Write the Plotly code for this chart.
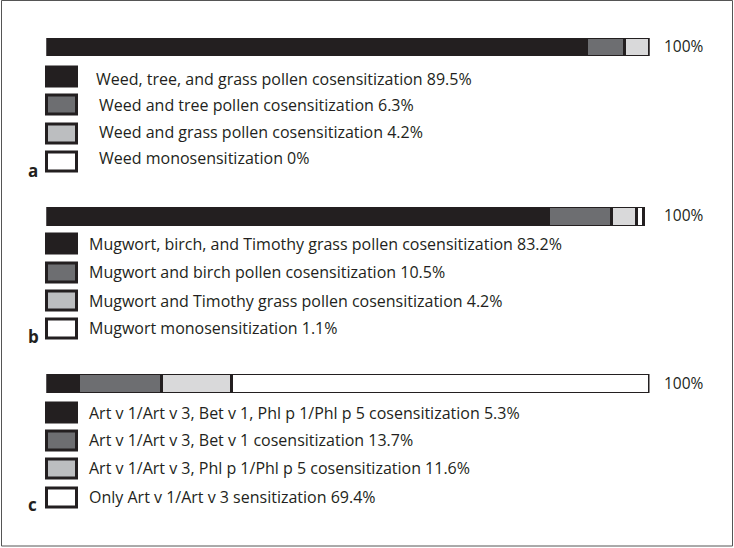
import plotly.graph_objects as go

W, H = 734, 548

# ---- data ----
panel_letters = ["a", "b", "c"]
labels_a = ["Weed, tree, and grass pollen cosensitization",
            "Weed and tree pollen cosensitization",
            "Weed and grass pollen cosensitization",
            "Weed monosensitization"]
values_a = [89.5, 6.3, 4.2, 0]
labels_b = ["Mugwort, birch, and Timothy grass pollen cosensitization",
            "Mugwort and birch pollen cosensitization",
            "Mugwort and Timothy grass pollen cosensitization",
            "Mugwort monosensitization"]
values_b = [83.2, 10.5, 4.2, 1.1]
labels_c = ["Art v 1/Art v 3, Bet v 1, Phl p 1/Phl p 5 cosensitization",
            "Art v 1/Art v 3, Bet v 1 cosensitization",
            "Art v 1/Art v 3, Phl p 1/Phl p 5 cosensitization",
            "Only Art v 1/Art v 3 sensitization"]
values_c = [5.3, 13.7, 11.6, 69.4]
total_label = "100%"

panels = [(labels_a, values_a), (labels_b, values_b), (labels_c, values_c)]

# ---- style ----
DARK = "#231f20"
bar_colors = [DARK, "#6d6e71", "#d9d9da", "#ffffff"]
swatch_colors = [DARK, "#6d6e71", "#bcbec0", "#ffffff"]
FONT = "Open Sans, Segoe UI, DejaVu Sans, sans-serif"

# pixel layout (top, bottom) of each bar; legend rows
bar_px = [(37, 57), (206, 227), (373, 394)]
swatch_top = [[66, 94, 123, 151], [233, 262, 290, 318], [402, 430, 458, 487]]
text_cy = [[79, 105, 132, 158], [244, 272, 301, 328], [413, 440, 468, 497]]
text_x = [[94, 97, 97, 97], [87, 87, 87, 87], [87, 87, 87, 87]]
letter_cy = [170, 336, 504]

def py(p):
    return 1 - p / H

def px(p):
    return p / W

fig = go.Figure()
shapes = []
annotations = []

for i, (labels, values) in enumerate(panels):
    yname = "y" if i == 0 else f"y{i+1}"
    for j, (lab, val) in enumerate(zip(labels, values)):
        fig.add_trace(go.Bar(
            x=[val], y=[panel_letters[i]], orientation="h",
            xaxis="x", yaxis=yname,
            marker=dict(color=bar_colors[j], line=dict(color=DARK, width=2.5)),
            showlegend=False, hoverinfo="skip", name=lab,
        ))
        # legend swatch
        t = swatch_top[i][j]
        shapes.append(dict(type="rect", xref="paper", yref="paper",
                           x0=px(46.5), x1=px(76.5), y0=py(t + 20), y1=py(t + 1),
                           fillcolor=swatch_colors[j],
                           line=dict(color=DARK, width=3)))
        annotations.append(dict(
            xref="paper", yref="paper", x=px(text_x[i][j]), y=py(text_cy[i][j]),
            xanchor="left", yanchor="middle", showarrow=False,
            text=f"{lab} {val:g}%", font=dict(family=FONT, size=16, color="#231f20")))
    top, bot = bar_px[i]
    annotations.append(dict(
        xref="paper", yref="paper", x=px(662), y=py((top + bot) / 2 - 1),
        xanchor="left", yanchor="middle", showarrow=False,
        text=total_label, font=dict(family=FONT, size=15.5, color="#231f20")))
    annotations.append(dict(
        xref="paper", yref="paper", x=px(26), y=py(letter_cy[i]),
        xanchor="left", yanchor="middle", showarrow=False,
        text=f"<b>{panel_letters[i]}</b>", font=dict(family=FONT, size=17, color="#231f20")))

# outer frame
shapes.append(dict(type="rect", xref="paper", yref="paper",
                   x0=px(1.5), x1=px(732.5), y0=py(546), y1=py(0.5),
                   line=dict(color="#555555", width=1), fillcolor="rgba(0,0,0,0)"))

axis_off = dict(visible=False, showgrid=False, zeroline=False, fixedrange=True)
layout = dict(
    width=W, height=H, margin=dict(l=0, r=0, t=0, b=0),
    paper_bgcolor="white", plot_bgcolor="white",
    barmode="stack", bargap=0,
    shapes=shapes, annotations=annotations,
    xaxis=dict(axis_off, range=[0, 100], domain=[px(46.5), px(649.5)]),
)
for i in range(3):
    key = "yaxis" if i == 0 else f"yaxis{i+1}"
    top, bot = bar_px[i]
    layout[key] = dict(axis_off, type="category", range=[-0.5, 0.5],
                       domain=[py(bot - 1), py(top + 1)], anchor="x")
fig.update_layout(**layout)

fig.write_html("out.html", config={"displayModeBar": False},
               post_script="document.body.style.margin='0';document.body.style.overflow='hidden';")
